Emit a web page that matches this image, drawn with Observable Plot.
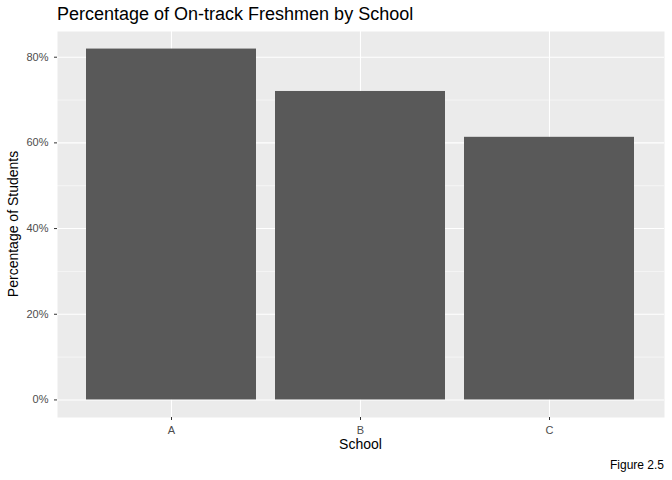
<!DOCTYPE html>
<html>
<head>
<meta charset="utf-8">
<script src="https://cdn.jsdelivr.net/npm/d3@7"></script>
<script src="https://cdn.jsdelivr.net/npm/@observablehq/plot@0.6"></script>
<style>
  body { margin: 0; background: white; font-family: "Liberation Sans", Arial, sans-serif; }
  #wrap { width: 672px; height: 480px; }
  #title { height: 30px; font-size: 18px; padding-left: 57px; line-height: 28px; color: #000; }
  #caption { height: 25px; font-size: 12px; text-align: right; padding-right: 8px; line-height: 20px; }
</style>
</head>
<body>
<div id="wrap">
  <div id="title">Percentage of On-track Freshmen by School</div>
  <div id="chart"></div>
  <div id="caption">Figure 2.5</div>
</div>
<script>
// Share of on-track freshmen per school
const schools = ["A", "B", "C"];
const onTrack = [0.819, 0.720, 0.613];
const majorTicks = [0, 0.2, 0.4, 0.6, 0.8];
const minorTicks = [0.1, 0.3, 0.5, 0.7];

const data = schools.map((s, i) => ({school: s, pct: onTrack[i]}));

const plot = Plot.plot({
    width: 672,
    height: 425,
    marginTop: 1,
    marginBottom: 38,
    marginLeft: 57,
    marginRight: 8,
    style: {fontFamily: "Liberation Sans, Arial, sans-serif", fontSize: "11px", color: "#4D4D4D"},
    x: {domain: schools, paddingInner: 0.1, paddingOuter: 0.15, label: null},
    y: {domain: [-0.041, 0.86], label: null},
    marks: [
        Plot.frame({fill: "#EBEBEB", stroke: null}),
        Plot.ruleY(minorTicks, {stroke: "white", strokeWidth: 0.5}),
        Plot.ruleY(majorTicks, {stroke: "white", strokeWidth: 1.1}),
        Plot.gridX({stroke: "white", strokeOpacity: 1, strokeWidth: 1.1}),
        Plot.barY(data, {x: "school", y: "pct", fill: "#595959"}),
        Plot.axisY({ticks: majorTicks, tickFormat: d => Math.round(d * 100) + "%", tickSize: 3, stroke: "#333", fill: "#4D4D4D", label: null}),
        Plot.axisX({tickSize: 3, stroke: "#333", fill: "#4D4D4D", label: null}),
    ],
});

const svg = d3.select(plot);
svg.append("text")
    .attr("x", 57 + (672 - 57 - 8) / 2).attr("y", 425 - 6)
    .attr("text-anchor", "middle").attr("font-size", 14).attr("fill", "#000")
    .text("School");
svg.append("text")
    .attr("transform", `translate(18, ${1 + (425 - 39) / 2}) rotate(-90)`)
    .attr("text-anchor", "middle").attr("font-size", 14).attr("fill", "#000")
    .text("Percentage of Students");

document.getElementById("chart").appendChild(plot);
</script>
</body>
</html>
